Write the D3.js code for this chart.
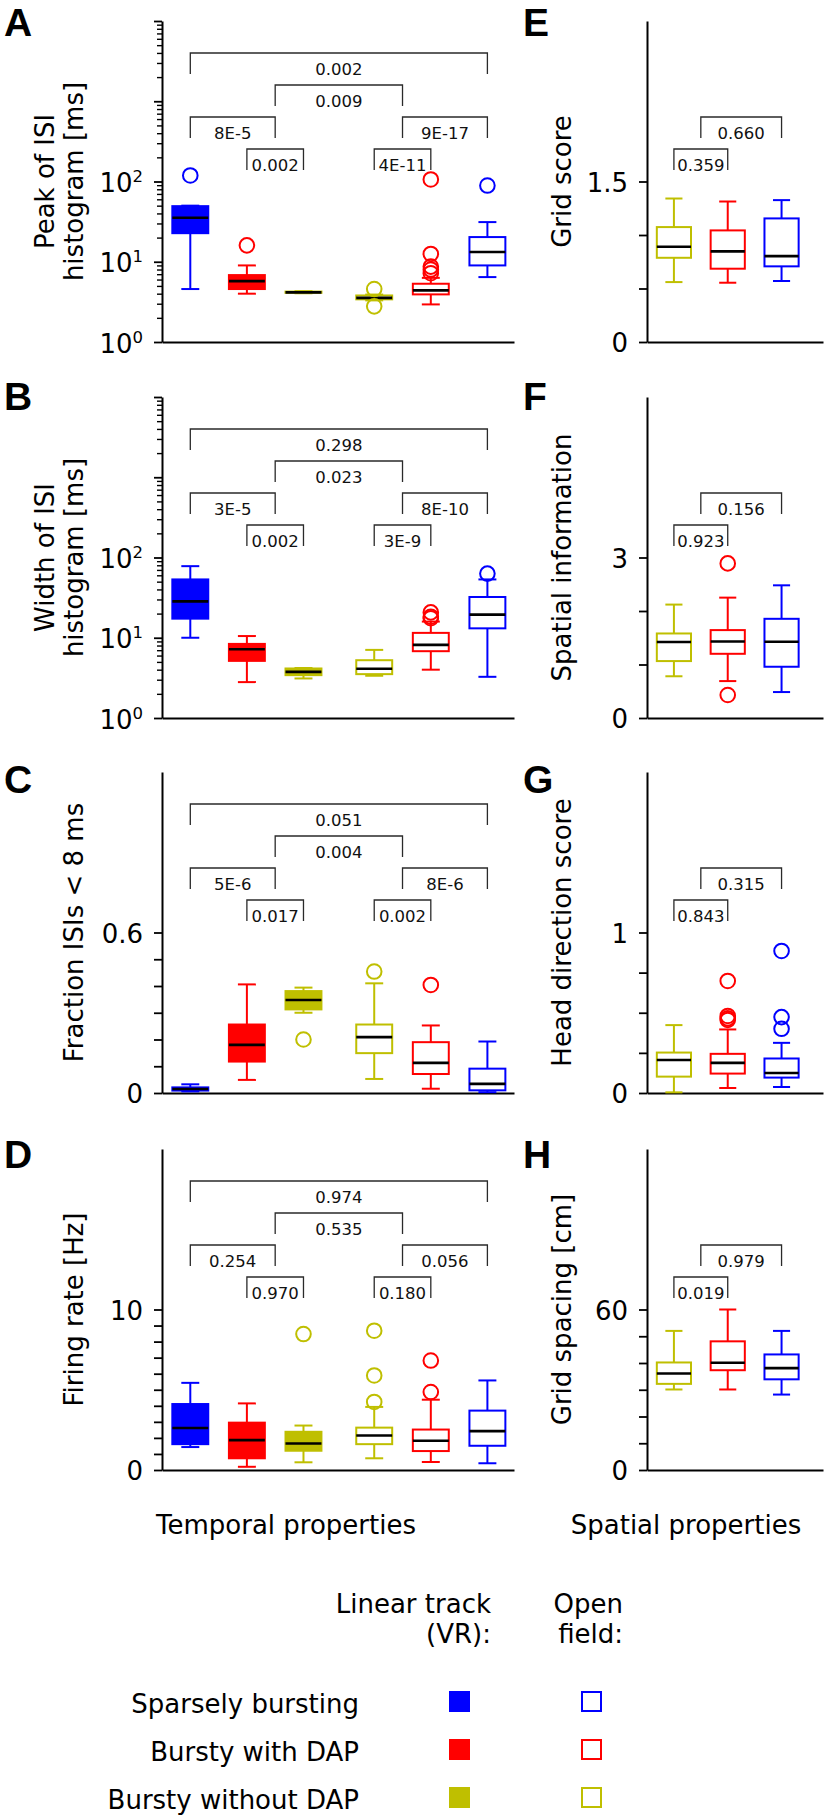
<!DOCTYPE html>
<html><head><meta charset="utf-8">
<script src="https://cdn.jsdelivr.net/npm/d3@7"></script>
<style>
body{margin:0;background:#fff}
svg{display:block}
text{font-family:"DejaVu Sans",sans-serif;fill:#000}
</style>
</head><body>
<script>
// ---------- categories ----------
const temporalGroups = ["Sparsely bursting (VR)","Bursty with DAP (VR)","Bursty without DAP (VR)",
                        "Bursty without DAP (OF)","Bursty with DAP (OF)","Sparsely bursting (OF)"];
const temporalPos = [1, 2, 3, 4.25, 5.25, 6.25];
const temporalColor = ["blue","red","olive","olive","red","blue"];
const temporalFilled = [true, true, true, false, false, false];

const spatialGroups = ["Bursty without DAP (OF)","Bursty with DAP (OF)","Sparsely bursting (OF)"];
const spatialPos = [1, 2, 3];
const spatialColor = ["olive","red","blue"];
const spatialFilled = [false, false, false];

const legendNames = ["Sparsely bursting","Bursty with DAP","Bursty without DAP"];
const legendColor = ["blue","red","olive"];

// ---------- box statistics: [whiskerLow, q1, median, q3, whiskerHigh] ----------
const peakISI = [[4.57,22.7,35.3,49.3,50],[4.0,4.57,5.74,6.82,9.0],[4.05,4.1,4.15,4.25,4.3],
                 [3.3,3.4,3.55,3.8,3.9],[2.94,3.92,4.4,5.32,6.3],[6.44,9.0,13.2,20.3,31.2]];
const peakISIOut = [[119],[16],[],[4.57,2.78],[106,12.5,8.7,8.0,7.2],[89]];
const peakISIp = ["0.002","0.009","8E-5","9E-17","0.002","4E-11"];

const widthISI = [[10.0,17.3,28.4,53.3,78],[2.8,5.15,7.2,8.38,10.5],[3.11,3.42,3.76,4.14,4.2],
                  [3.36,3.52,4.1,5.25,7.06],[4.0,6.8,8.15,11.5,15.9],[3.26,13.1,19.4,32.2,53.3]];
const widthISIOut = [[],[],[],[],[20.7,18.3,17.5],[63]];
const widthISIp = ["0.298","0.023","3E-5","8E-10","0.002","3E-9"];

const fracISI = [[0.006,0.009,0.015,0.021,0.0325],[0.049,0.1175,0.18,0.256,0.406],[0.30,0.3125,0.3475,0.381,0.394],
                 [0.0525,0.149,0.209,0.256,0.41],[0.016,0.071,0.1125,0.19,0.2525],[0.003,0.01,0.034,0.091,0.1925]];
const fracISIOut = [[],[],[0.20],[0.454],[0.404],[]];
const fracISIp = ["0.051","0.004","5E-6","8E-6","0.017","0.002"];

const firingRate = [[1.43,1.61,2.62,4.11,5.43],[0.2,0.73,1.86,2.95,4.15],[0.48,1.2,1.65,2.38,2.77],
                    [0.73,1.61,2.15,2.64,3.93],[0.5,1.18,1.82,2.52,4.38],[0.42,1.51,2.42,3.7,5.58]];
const firingRateOut = [[],[],[8.47],[8.68,5.89,4.24],[6.82,4.86],[]];
const firingRateP = ["0.974","0.535","0.254","0.056","0.970","0.180"];

const gridScore = [[0.56,0.787,0.89,1.074,1.341],[0.554,0.685,0.847,1.043,1.313],[0.57,0.707,0.803,1.155,1.326]];
const gridScoreOut = [[],[],[]];
const gridScoreP = ["0.660","0.359"];

const spatialInfo = [[0.78,1.064,1.42,1.58,2.12],[0.69,1.2,1.43,1.643,2.25],[0.485,0.958,1.425,1.854,2.48]];
const spatialInfoOut = [[],[2.89,0.43],[]];
const spatialInfoP = ["0.156","0.923"];

const hdScore = [[0.004,0.102,0.206,0.252,0.423],[0.031,0.121,0.1875,0.244,0.396],[0.0375,0.096,0.125,0.215,0.3125]];
const hdScoreOut = [[],[0.698,0.48,0.465,0.455],[0.885,0.473,0.40]];
const hdScoreP = ["0.315","0.843"];

const gridSpacing = [[30.1,32.2,36.1,40.2,52.0],[30.1,37.3,40.1,48.1,60],[28.2,33.9,38.1,43.2,52.0]];
const gridSpacingOut = [[],[],[]];
const gridSpacingP = ["0.979","0.019"];

// ---------- comparison brackets (fractional category indices) and their row ----------
const temporalPairs = [[0,5],[1.5,3.5],[0,1.5],[3.5,5],[1,2],[3,4]];
const temporalRows = [1,2,3,3,4,4];
const spatialPairs = [[0.5,2],[0,1]];
const spatialRows = [3,4];

// ---------- axis ticks ----------
const logTickLabels = [0,1,2];          // exponents shown as 10^n
const fracTicks = [0,0.1,0.2,0.3,0.4,0.5,0.6], fracLabels = ["0","","","","","","0.6"];
const rateTicks = d3.range(0,11,1), rateLabels = ["0","","","","","","","","","","10"];
const gridTicks = [0,0.5,1,1.5], gridLabels = ["0","","","1.5"];
const infoTicks = [0,1,2,3], infoLabels = ["0","","","3"];
const hdTicks = [0,0.25,0.5,0.75,1], hdLabels = ["0","","","","1"];
const spacingTicks = [0,10,20,30,40,50,60], spacingLabels = ["0","","","","","","60"];

// ---------- rendering ----------
const colorMap = {blue:"#0000ff", red:"#ff0000", olive:"#bfbf00"};
const W = 826, H = 1818;
const svg = d3.select("body").append("svg").attr("width", W).attr("height", H);

const rowTops = [21, 397, 772, 1149];
const letterBase = [36, 410, 793, 1168];
const panelH = 321;
const left = {x0:162, x1:514, dom:[0.5,6.72], pos:temporalPos, col:temporalColor, fill:temporalFilled,
              pairs:temporalPairs, rows:temporalRows, letterX:4, labelX:74, labelX2:45};
const right = {x0:647, x1:823, dom:[0.5,3.77], pos:spatialPos, col:spatialColor, fill:spatialFilled,
               pairs:spatialPairs, rows:spatialRows, letterX:523, labelX:562};

const panels = [
  {L:"A", side:left, row:0, label:["Peak of ISI","histogram [ms]"], log:true, domain:[1,1e4], data:peakISI, out:peakISIOut, p:peakISIp},
  {L:"B", side:left, row:1, label:["Width of ISI","histogram [ms]"], log:true, domain:[1,1e4], data:widthISI, out:widthISIOut, p:widthISIp},
  {L:"C", side:left, row:2, label:["Fraction ISIs < 8 ms"], domain:[0,1.2], ticks:fracTicks, tl:fracLabels, data:fracISI, out:fracISIOut, p:fracISIp},
  {L:"D", side:left, row:3, label:["Firing rate [Hz]"], domain:[0,20], ticks:rateTicks, tl:rateLabels, data:firingRate, out:firingRateOut, p:firingRateP},
  {L:"E", side:right, row:0, label:["Grid score"], domain:[0,3], ticks:gridTicks, tl:gridLabels, data:gridScore, out:gridScoreOut, p:gridScoreP},
  {L:"F", side:right, row:1, label:["Spatial information"], domain:[0,6], ticks:infoTicks, tl:infoLabels, data:spatialInfo, out:spatialInfoOut, p:spatialInfoP},
  {L:"G", side:right, row:2, label:["Head direction score"], domain:[0,2], ticks:hdTicks, tl:hdLabels, data:hdScore, out:hdScoreOut, p:hdScoreP},
  {L:"H", side:right, row:3, label:["Grid spacing [cm]"], domain:[0,120], ticks:spacingTicks, tl:spacingLabels, data:gridSpacing, out:gridSpacingOut, p:gridSpacingP}
];

panels.forEach(P => {
  const S = P.side;
  const top = rowTops[P.row], bottom = top + panelH;
  const y = P.log ? d3.scaleLog().domain(P.domain).range([bottom, top])
                  : d3.scaleLinear().domain(P.domain).range([bottom, top]);
  const x = d3.scaleLinear().domain(S.dom).range([S.x0, S.x1]);
  const g = svg.append("g");

  // panel letter
  g.append("text").attr("x", S.letterX).attr("y", letterBase[P.row])
    .style("font-family", "'Liberation Sans', Arial, sans-serif").style("font-weight", "bold")
    .style("font-size", "39px").text(P.L);

  // y label
  const lx = P.label.length === 2 ? [S.labelX2, S.labelX] : [S.labelX];
  P.label.forEach((t, i) => {
    g.append("text").attr("transform", `translate(${lx[i]},${(top+bottom)/2}) rotate(-90)`)
      .attr("text-anchor", "middle").attr("dy", "0.36em").style("font-size", "26px").text(t);
  });

  // x axis (bottom spine only)
  const xa = g.append("g").attr("transform", `translate(0,${bottom})`)
    .call(d3.axisBottom(x).tickValues([]).tickSizeOuter(0));
  xa.select(".domain").attr("stroke", "#000").attr("stroke-width", 2);

  // y axis
  let major, minor = [];
  if (P.log) {
    major = d3.range(0, 5).map(e => Math.pow(10, e));
    for (let e = 0; e < 4; e++) for (let m = 2; m <= 9; m++) minor.push(m * Math.pow(10, e));
  } else {
    major = P.ticks;
  }
  const ya = g.append("g").attr("transform", `translate(${S.x0},0)`)
    .call(d3.axisLeft(y).tickValues(major).tickSize(8).tickSizeOuter(0).tickFormat(""));
  ya.select(".domain").attr("stroke", "#000").attr("stroke-width", 2);
  ya.selectAll(".tick line").attr("stroke", "#000").attr("stroke-width", 1.8);
  if (minor.length) {
    const ym = g.append("g").attr("transform", `translate(${S.x0},0)`)
      .call(d3.axisLeft(y).tickValues(minor).tickSize(5).tickSizeOuter(0).tickFormat(""));
    ym.select(".domain").remove();
    ym.selectAll(".tick line").attr("stroke", "#000").attr("stroke-width", 1.4);
  }
  // tick labels
  if (P.log) {
    logTickLabels.forEach(e => {
      const t = g.append("text").attr("x", S.x0 - 19).attr("y", y(Math.pow(10, e)) + 10.5)
        .attr("text-anchor", "end").style("font-size", "26px");
      t.append("tspan").text("10");
      t.append("tspan").attr("dy", -10).style("font-size", "16.5px").text(String(e));
    });
  } else {
    P.ticks.forEach((v, i) => {
      if (!P.tl[i]) return;
      g.append("text").attr("x", S.x0 - 19).attr("y", y(v) + 10)
        .attr("text-anchor", "end").style("font-size", "26px").text(P.tl[i]);
    });
  }

  // boxes
  const unit = x(2) - x(1);
  const bw = 0.635 * unit;
  P.data.forEach((d, i) => {
    const [lo, q1, med, q3, hi] = d;
    const cx = x(S.pos[i]);
    const c = colorMap[S.col[i]];
    const bg = g.append("g");
    bg.append("line").attr("x1", cx).attr("x2", cx).attr("y1", y(lo)).attr("y2", y(q1))
      .attr("stroke", c).attr("stroke-width", 2);
    bg.append("line").attr("x1", cx).attr("x2", cx).attr("y1", y(q3)).attr("y2", y(hi))
      .attr("stroke", c).attr("stroke-width", 2);
    [lo, hi].forEach(v => bg.append("line").attr("x1", cx - bw/4).attr("x2", cx + bw/4)
      .attr("y1", y(v)).attr("y2", y(v)).attr("stroke", c).attr("stroke-width", 2));
    bg.append("rect").attr("x", cx - bw/2).attr("width", bw)
      .attr("y", y(q3)).attr("height", Math.max(0.5, y(q1) - y(q3)))
      .attr("fill", S.fill[i] ? c : "none").attr("stroke", c).attr("stroke-width", 2);
    bg.append("line").attr("x1", cx - bw/2).attr("x2", cx + bw/2).attr("y1", y(med)).attr("y2", y(med))
      .attr("stroke", "#000").attr("stroke-width", 2.6);
    P.out[i].forEach(v => bg.append("circle").attr("cx", cx).attr("cy", y(v)).attr("r", 7.3)
      .attr("fill", "none").attr("stroke", c).attr("stroke-width", 2));
  });

  // comparison brackets
  const xAt = k => {
    const a = Math.floor(k), b = Math.ceil(k);
    return (x(S.pos[a]) + x(S.pos[b])) / 2;
  };
  S.pairs.forEach((pr, j) => {
    const xa_ = xAt(pr[0]), xb_ = xAt(pr[1]);
    const yb = top + 32 * S.rows[j];
    g.append("path").attr("d", `M${xa_},${yb + 21}V${yb}H${xb_}V${yb + 21}`)
      .attr("fill", "none").attr("stroke", "#2a2a2a").attr("stroke-width", 1.3);
    g.append("text").attr("x", (xa_ + xb_) / 2).attr("y", yb + 22)
      .attr("text-anchor", "middle").style("font-size", "16.5px").style("fill", "#111").text(P.p[j]);
  });
});

// section titles
svg.append("text").attr("x", 286).attr("y", 1534).attr("text-anchor", "middle")
  .style("font-size", "26px").text("Temporal properties");
svg.append("text").attr("x", 686).attr("y", 1534).attr("text-anchor", "middle")
  .style("font-size", "26px").text("Spatial properties");

// legend
const lg = svg.append("g");
[["Linear track", 491, 1613], ["(VR):", 491, 1643], ["Open", 623, 1613], ["field:", 623, 1643]].forEach(([t, xx, yy]) =>
  lg.append("text").attr("x", xx).attr("y", yy).attr("text-anchor", "end").style("font-size", "26px").text(t));
const legY = d3.scalePoint().domain(legendNames).range([1701.5, 1797.5]);
legendNames.forEach((n, i) => {
  const cy = legY(n), c = colorMap[legendColor[i]];
  lg.append("text").attr("x", 359).attr("y", cy + 11).attr("text-anchor", "end").style("font-size", "26px").text(n);
  lg.append("rect").attr("x", 449).attr("y", cy - 10.5).attr("width", 21).attr("height", 21).attr("fill", c);
  lg.append("rect").attr("x", 582).attr("y", cy - 9.5).attr("width", 19).attr("height", 19)
    .attr("fill", "none").attr("stroke", c).attr("stroke-width", 2);
});
</script>
</body></html>
